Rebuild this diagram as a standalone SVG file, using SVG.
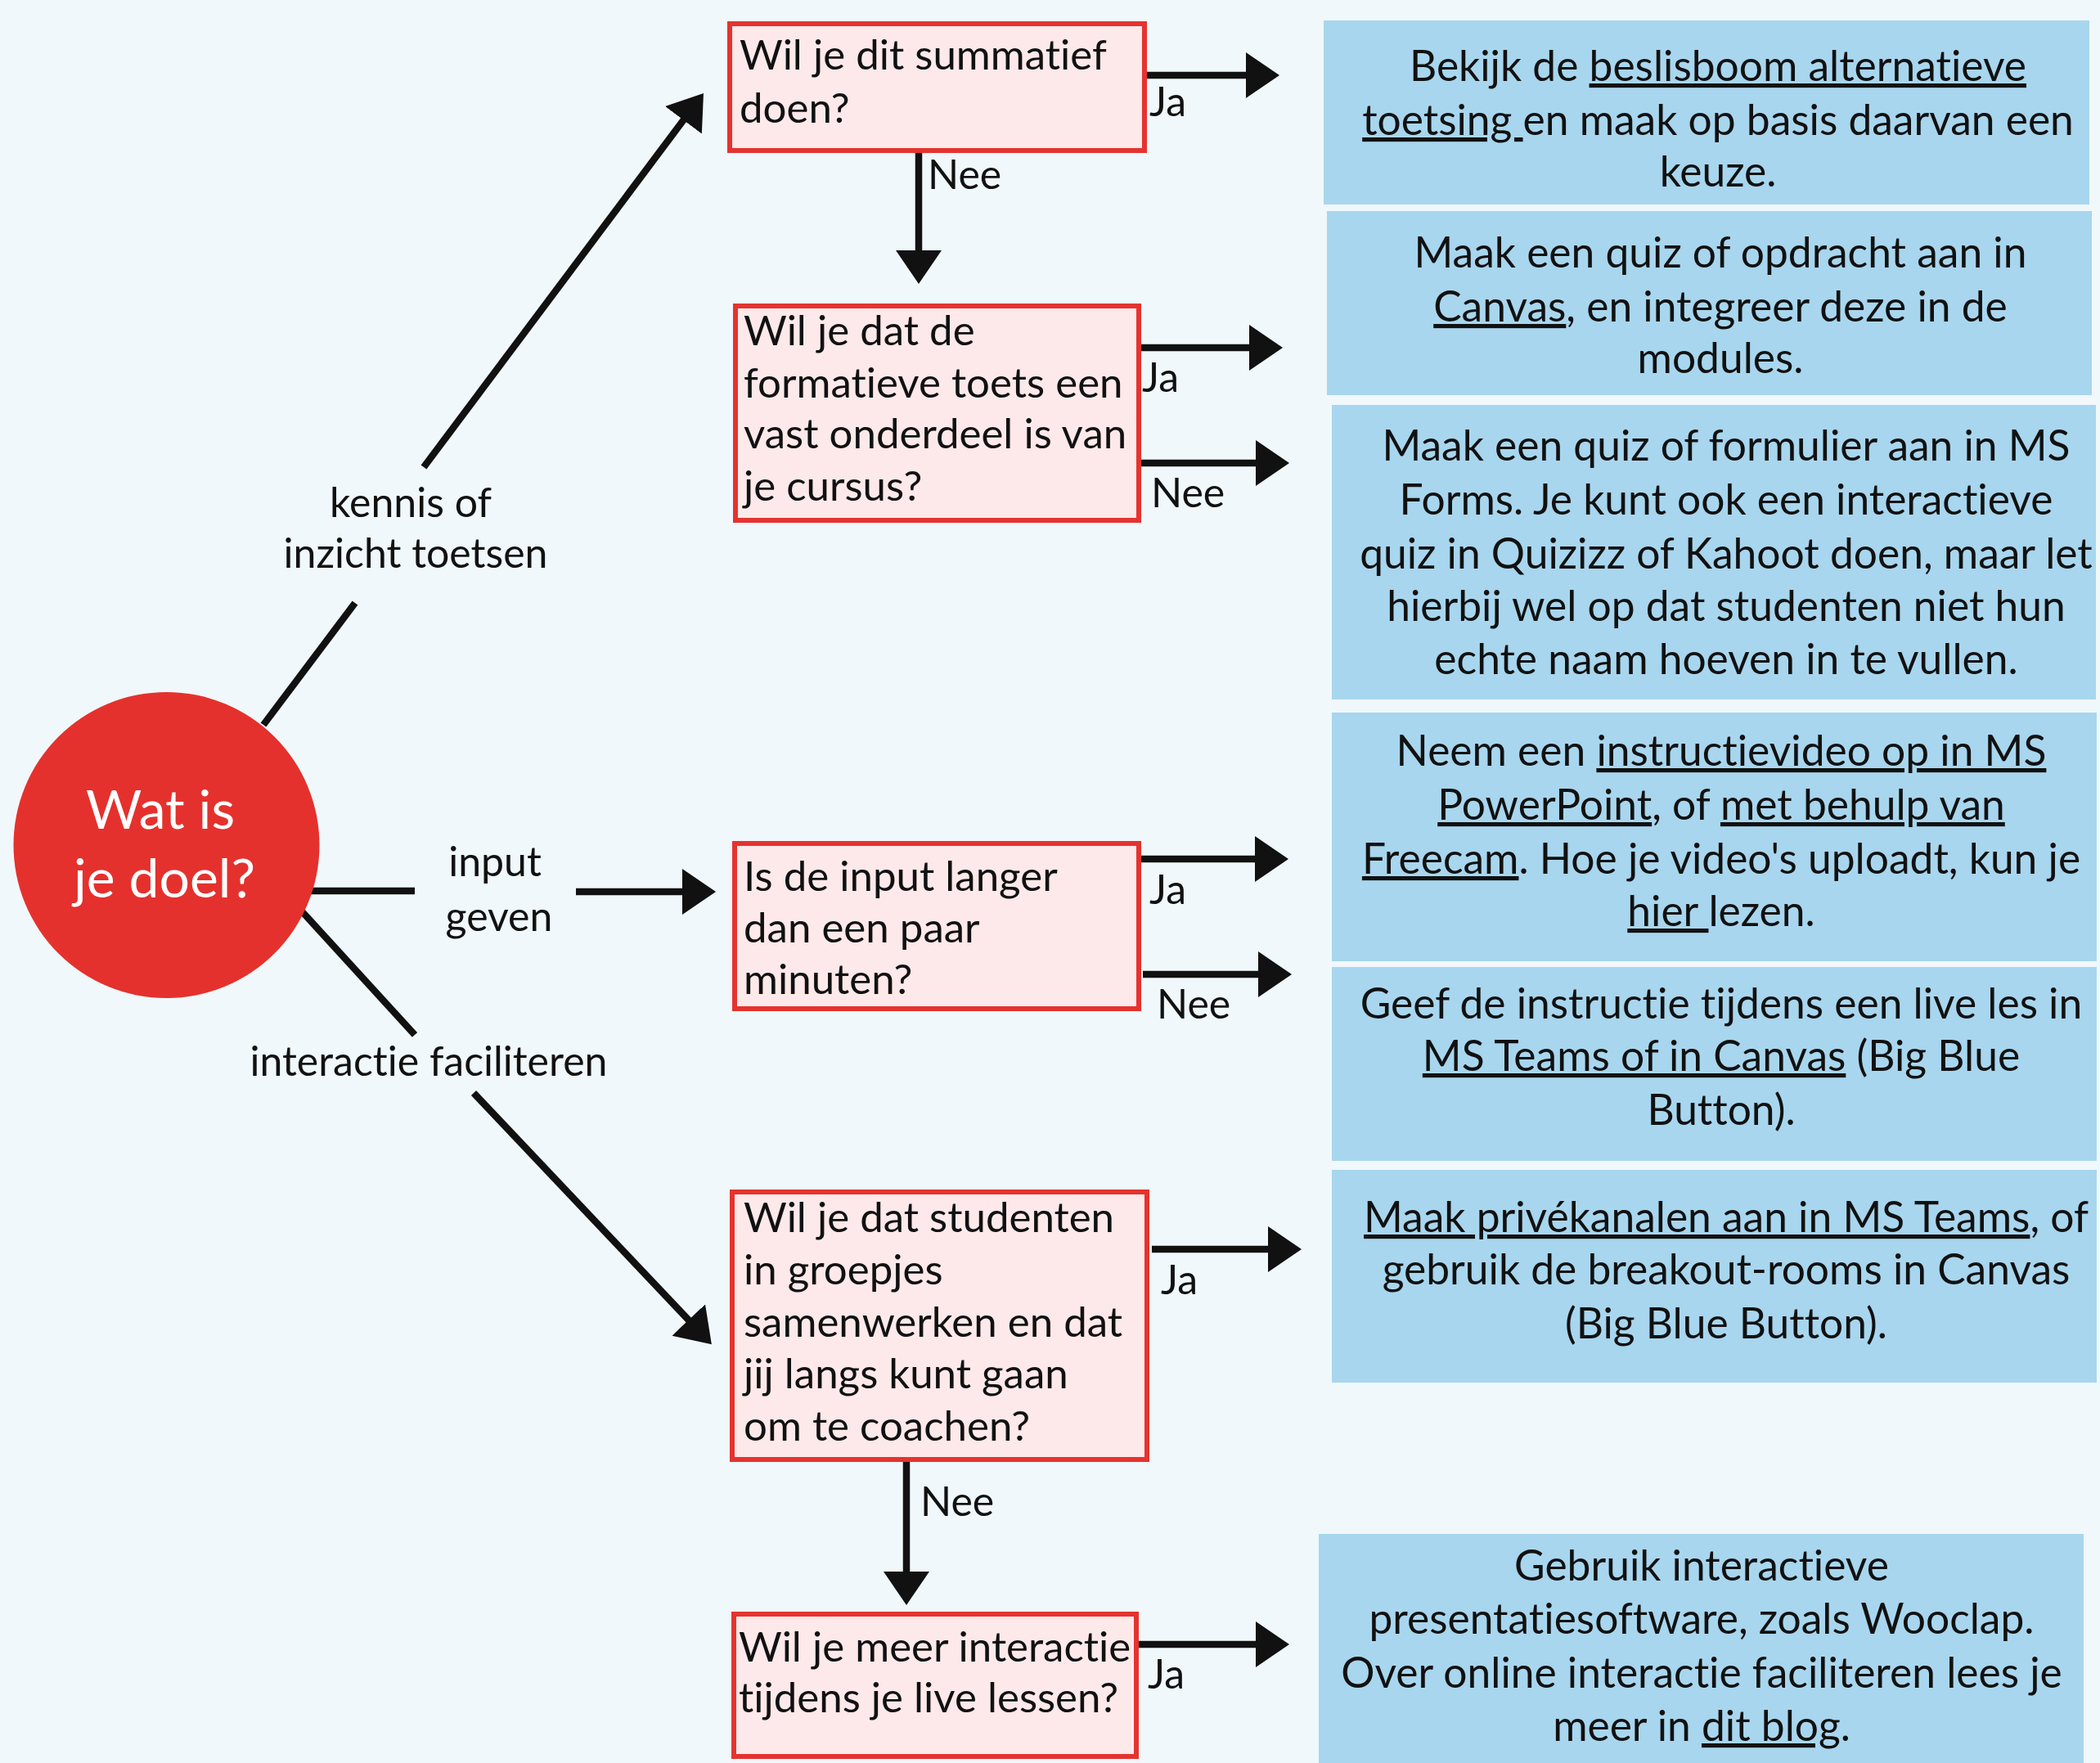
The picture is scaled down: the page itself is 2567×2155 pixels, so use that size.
<svg xmlns="http://www.w3.org/2000/svg" width="2567" height="2155" viewBox="0 0 2567 2155">
<style>
text{font-family:Lato,"Noto Sans","Liberation Sans",sans-serif;fill:#111111;font-variant-ligatures:none}
.q{font-size:51px}
.a{font-size:51.5px;text-anchor:middle}
.lbl{font-size:50px}
.mid{text-anchor:middle}
.u{text-decoration:underline}
.qbox{fill:#FDE9EA;stroke:#E5332F;stroke-width:6}
.abox{fill:#A8D6EE}
.con{stroke:#111111;stroke-width:8.5;fill:none}
.arr{marker-end:url(#ah)}
</style>
<defs>
<marker id="ah" markerUnits="userSpaceOnUse" markerWidth="44" markerHeight="58" refX="31" refY="28" orient="auto">
<path d="M0,0 L41,28 L0,56 Z" fill="#111111"/>
</marker>
</defs>
<rect x="0" y="0" width="2567" height="2155" fill="#F0F8FB"/>

<g id="connectors">
<line class="con" x1="322" y1="886" x2="434" y2="737"/>
<line class="con arr" x1="518" y1="571" x2="854" y2="122"/>
<line class="con" x1="380" y1="1089" x2="507" y2="1089"/>
<line class="con arr" x1="704" y1="1090" x2="865" y2="1090"/>
<line class="con" x1="369" y1="1114" x2="507" y2="1265"/>
<line class="con arr" x1="579" y1="1336" x2="863" y2="1636"/>
<line class="con arr" x1="1402" y1="92" x2="1554" y2="92"/>
<line class="con arr" x1="1123" y1="187" x2="1123" y2="337"/>
<line class="con arr" x1="1395" y1="425" x2="1558" y2="425"/>
<line class="con arr" x1="1393" y1="566" x2="1566" y2="566"/>
<line class="con arr" x1="1395" y1="1050" x2="1565" y2="1050"/>
<line class="con arr" x1="1397" y1="1191" x2="1569" y2="1191"/>
<line class="con arr" x1="1408" y1="1527" x2="1581" y2="1527"/>
<line class="con arr" x1="1108" y1="1787" x2="1108" y2="1952"/>
<line class="con arr" x1="1392" y1="2010" x2="1566" y2="2010"/>
</g>

<g id="edge-labels">
<text class="lbl mid" x="502" y="632">kennis of</text>
<text class="lbl mid" x="508" y="694">inzicht toetsen</text>
<text class="lbl mid" x="605" y="1071">input</text>
<text class="lbl mid" x="610" y="1138">geven</text>
<text class="lbl mid" x="524" y="1315">interactie faciliteren</text>
<text class="lbl" x="1405" y="142">Ja</text>
<text class="lbl" x="1134" y="231">Nee</text>
<text class="lbl" x="1396" y="479">Ja</text>
<text class="lbl" x="1407" y="620">Nee</text>
<text class="lbl" x="1405" y="1105">Ja</text>
<text class="lbl" x="1414" y="1245">Nee</text>
<text class="lbl" x="1419" y="1582">Ja</text>
<text class="lbl" x="1125" y="1853">Nee</text>
<text class="lbl" x="1403" y="2064">Ja</text>
</g>

<g id="start">
<circle cx="203.5" cy="1033" r="187" fill="#E5312D"/>
<text x="196" y="1013" font-size="66" text-anchor="middle" style="fill:#ffffff">Wat is</text>
<text x="201" y="1097" font-size="66" text-anchor="middle" style="fill:#ffffff">je doel?</text>
</g>

<g id="q1">
<rect class="qbox" x="892" y="29" width="507" height="155"/>
<text class="q" x="904" y="85">Wil je dit summatief</text>
<text class="q" x="904" y="150">doen?</text>
</g>
<g id="q2">
<rect class="qbox" x="899" y="374" width="493" height="262"/>
<text class="q" x="909" y="422">Wil je dat de</text>
<text class="q" x="909" y="486">formatieve toets een</text>
<text class="q" x="909" y="548">vast onderdeel is van</text>
<text class="q" x="909" y="612">je cursus?</text>
</g>
<g id="q3">
<rect class="qbox" x="898" y="1031" width="494" height="202"/>
<text class="q" x="909" y="1089">Is de input langer</text>
<text class="q" x="909" y="1152">dan een paar</text>
<text class="q" x="909" y="1215">minuten?</text>
</g>
<g id="q4">
<rect class="qbox" x="895" y="1457" width="507" height="327"/>
<text class="q" x="909" y="1506">Wil je dat studenten</text>
<text class="q" x="909" y="1570">in groepjes</text>
<text class="q" x="909" y="1634">samenwerken en dat</text>
<text class="q" x="909" y="1697">jij langs kunt gaan</text>
<text class="q" x="909" y="1761">om te coachen?</text>
</g>
<g id="q5">
<rect class="qbox" x="897" y="1973" width="492" height="174"/>
<text class="q" x="903" y="2031">Wil je meer interactie</text>
<text class="q" x="903" y="2093">tijdens je live lessen?</text>
</g>

<g id="r1">
<rect class="abox" x="1618" y="25" width="936" height="225"/>
<text class="a" x="2100" y="99">Bekijk de <tspan class="u">beslisboom alternatieve</tspan></text>
<text class="a" x="2100" y="165"><tspan class="u">toetsing </tspan>en maak op basis daarvan een</text>
<text class="a" x="2100" y="228">keuze.</text>
</g>
<g id="r2">
<rect class="abox" x="1622" y="258" width="935" height="225"/>
<text class="a" x="2103" y="327">Maak een quiz of opdracht aan in</text>
<text class="a" x="2103" y="393"><tspan class="u">Canvas</tspan>, en integreer deze in de</text>
<text class="a" x="2103" y="456">modules.</text>
</g>
<g id="r3">
<rect class="abox" x="1628" y="495" width="934" height="360"/>
<text class="a" x="2110" y="563">Maak een quiz of formulier aan in MS</text>
<text class="a" x="2110" y="629">Forms. Je kunt ook een interactieve</text>
<text class="a" x="2110" y="695">quiz in Quizizz of Kahoot doen, maar let</text>
<text class="a" x="2110" y="759">hierbij wel op dat studenten niet hun</text>
<text class="a" x="2110" y="824">echte naam hoeven in te vullen.</text>
</g>
<g id="r4">
<rect class="abox" x="1628" y="871" width="935" height="304"/>
<text class="a" x="2104" y="936">Neem een <tspan class="u">instructievideo op in MS</tspan></text>
<text class="a" x="2104" y="1002"><tspan class="u">PowerPoint</tspan>, of <tspan class="u">met behulp van</tspan></text>
<text class="a" x="2104" y="1068"><tspan class="u">Freecam</tspan>. Hoe je video's uploadt, kun je</text>
<text class="a" x="2104" y="1132"><tspan class="u">hier </tspan>lezen.</text>
</g>
<g id="r5">
<rect class="abox" x="1628" y="1182" width="935" height="237"/>
<text class="a" x="2104" y="1245">Geef de instructie tijdens een live les in</text>
<text class="a" x="2104" y="1309"><tspan class="u">MS Teams of in Canvas</tspan> (Big Blue</text>
<text class="a" x="2104" y="1375">Button).</text>
</g>
<g id="r6">
<rect class="abox" x="1628" y="1430" width="935" height="260"/>
<text class="a" x="2110" y="1506"><tspan class="u">Maak privékanalen aan in MS Teams</tspan>, of</text>
<text class="a" x="2110" y="1570">gebruik de breakout-rooms in Canvas</text>
<text class="a" x="2110" y="1636">(Big Blue Button).</text>
</g>
<g id="r7">
<rect class="abox" x="1612" y="1875" width="935" height="290"/>
<text class="a" x="2080" y="1932">Gebruik interactieve</text>
<text class="a" x="2080" y="1997">presentatiesoftware, zoals Wooclap.</text>
<text class="a" x="2080" y="2063">Over online interactie faciliteren lees je</text>
<text class="a" x="2080" y="2128">meer in <tspan class="u">dit blog</tspan>.</text>
</g>
</svg>
